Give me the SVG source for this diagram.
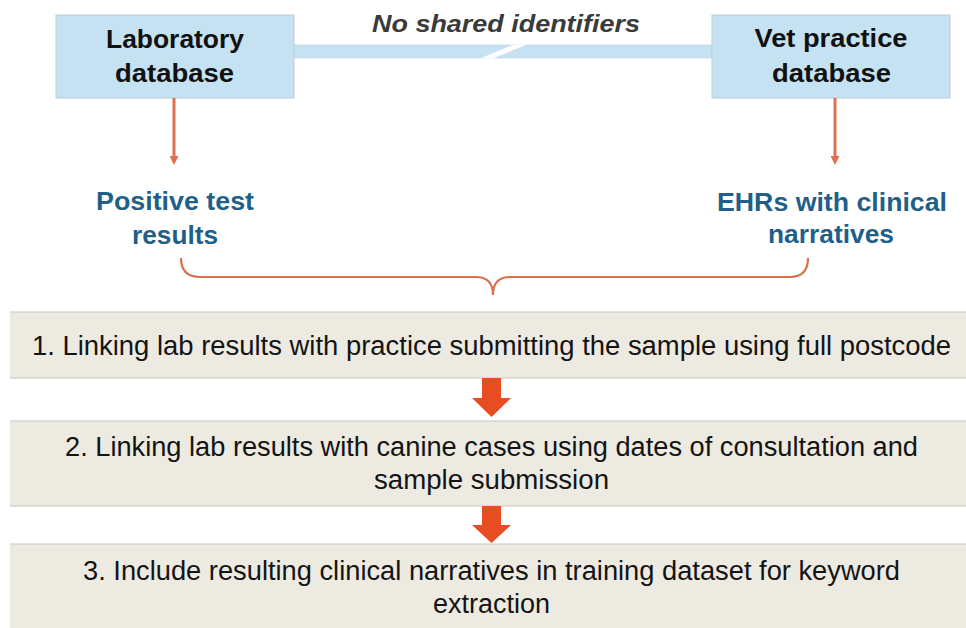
<svg xmlns="http://www.w3.org/2000/svg" width="966" height="628" viewBox="0 0 966 628">
  <style>
    .db { fill: #c5e2f3; stroke: #b9cbd8; stroke-width: 1; }
    .dbtext { font-family: "Liberation Sans", Arial, sans-serif; font-weight: bold; font-size: 25px; fill: #111111; text-anchor: middle; }
    .out { font-family: "Liberation Sans", Arial, sans-serif; font-weight: bold; font-size: 25px; fill: #1f5f8a; text-anchor: middle; }
    .note { font-family: "Liberation Sans", Arial, sans-serif; font-weight: bold; font-style: italic; font-size: 24px; fill: #3a3a3a; text-anchor: middle; }
    .step { fill: #edeae1; }
    .stepline { stroke: #c6c6c2; stroke-width: 1.2; }
    .steptext { font-family: "Liberation Sans", Arial, sans-serif; font-size: 27px; fill: #141414; text-anchor: middle; }
    .thin { stroke: #df7150; stroke-width: 3; fill: none; }
    .brace { stroke: #d9714f; stroke-width: 2.2; fill: none; }
    .bigarrow { fill: #e84c22; }
  </style>
  <defs>
    <marker id="head" markerWidth="4" markerHeight="3" refX="1" refY="1.5" orient="auto" markerUnits="strokeWidth">
      <path d="M0,0 L3,1.5 L0,3 Z" fill="#df7150"/>
    </marker>
  </defs>

  <rect width="966" height="628" fill="#ffffff"/>

  <!-- broken link between the two databases -->
  <g id="no-link">
    <rect x="294" y="45" width="418" height="13" fill="#c5e2f3" stroke="#c9d6df" stroke-width="0.8"/>
    <polygon points="480,58.6 493,58.6 527,44.4 514,44.4" fill="#ffffff"/>
    <text class="note" x="506" y="32" textLength="268" lengthAdjust="spacingAndGlyphs">No shared identifiers</text>
  </g>

  <g id="lab-db">
    <rect class="db" x="56" y="15" width="238" height="83"/>
    <text class="dbtext" x="175" y="48" textLength="138" lengthAdjust="spacingAndGlyphs">Laboratory</text>
    <text class="dbtext" x="174.5" y="82" textLength="119" lengthAdjust="spacingAndGlyphs">database</text>
  </g>

  <g id="vet-db">
    <rect class="db" x="712" y="15" width="238" height="83"/>
    <text class="dbtext" x="831" y="47" textLength="153" lengthAdjust="spacingAndGlyphs">Vet practice</text>
    <text class="dbtext" x="831.5" y="82" textLength="119" lengthAdjust="spacingAndGlyphs">database</text>
  </g>

  <g id="positive-results">
    <text class="out" x="175" y="210" textLength="158" lengthAdjust="spacingAndGlyphs">Positive test</text>
    <text class="out" x="175" y="244" textLength="86" lengthAdjust="spacingAndGlyphs">results</text>
  </g>

  <g id="ehr-narratives">
    <text class="out" x="832" y="211" textLength="230" lengthAdjust="spacingAndGlyphs">EHRs with clinical</text>
    <text class="out" x="831" y="243" textLength="126" lengthAdjust="spacingAndGlyphs">narratives</text>
  </g>

  <g id="step-1">
    <rect class="step" x="10" y="312" width="956" height="66"/>
    <line class="stepline" x1="10" y1="312" x2="966" y2="312"/>
    <line class="stepline" x1="10" y1="378" x2="966" y2="378"/>
    <text class="steptext" x="491.5" y="355" textLength="919" lengthAdjust="spacingAndGlyphs">1. Linking lab results with practice submitting the sample using full postcode</text>
  </g>

  <g id="step-2">
    <rect class="step" x="10" y="421" width="956" height="85"/>
    <line class="stepline" x1="10" y1="421" x2="966" y2="421"/>
    <line class="stepline" x1="10" y1="506" x2="966" y2="506"/>
    <text class="steptext" x="491.5" y="456" textLength="853" lengthAdjust="spacingAndGlyphs">2. Linking lab results with canine cases using dates of consultation and</text>
    <text class="steptext" x="491.5" y="489" textLength="235" lengthAdjust="spacingAndGlyphs">sample submission</text>
  </g>

  <g id="step-3">
    <rect class="step" x="10" y="544" width="956" height="84"/>
    <line class="stepline" x1="10" y1="544" x2="966" y2="544"/>
    <text class="steptext" x="491.5" y="580" textLength="817" lengthAdjust="spacingAndGlyphs">3. Include resulting clinical narratives in training dataset for keyword</text>
    <text class="steptext" x="491.5" y="613">extraction</text>
  </g>

  <g id="connectors">
    <line class="thin" x1="174" y1="98" x2="174" y2="159" marker-end="url(#head)"/>
    <line class="thin" x1="835" y1="98" x2="835" y2="159" marker-end="url(#head)"/>
    <path class="brace" d="M181,258 Q181,277 200,277 L476,277 Q493,277 493,295 Q493,277 510,277 L790,277 Q808,277 808,258"/>
    <polygon class="bigarrow" points="482,378 501,378 501,398 511,398 491.5,417 472,398 482,398"/>
    <polygon class="bigarrow" points="482,506 501,506 501,525 511,525 491.5,543 472,525 482,525"/>
  </g>
</svg>
